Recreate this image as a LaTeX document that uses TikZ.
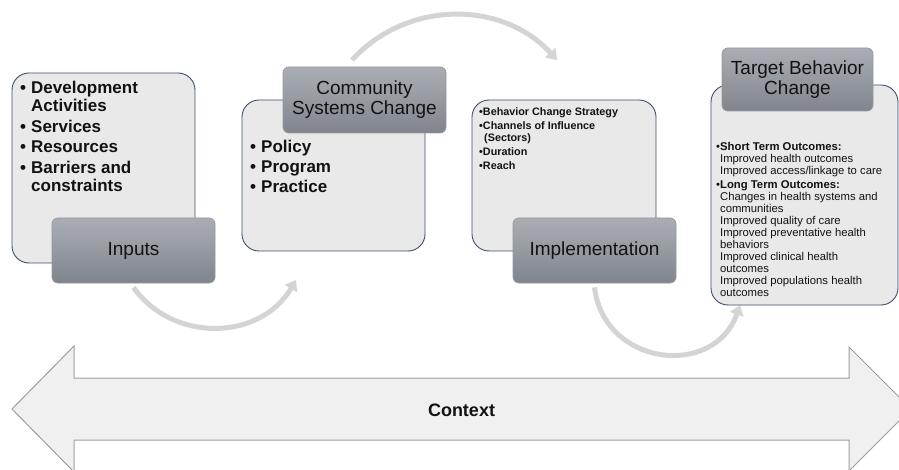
\documentclass[tikz,border=0pt]{standalone}
\usepackage{fontspec}
\setmainfont{Liberation Sans}
\usetikzlibrary{arrows.meta}

\definecolor{boxfill}{RGB}{233,233,233}
\definecolor{boxline}{RGB}{62,78,104}
\definecolor{tabtop}{RGB}{170,174,180}
\definecolor{tabbot}{RGB}{128,133,141}
\definecolor{tabline}{RGB}{150,152,156}
\definecolor{flowgray}{RGB}{212,212,214}
\definecolor{ctxfill}{RGB}{240,240,240}
\definecolor{ctxline}{RGB}{158,158,158}
\definecolor{ink}{RGB}{18,18,18}

% the flow arrows sit underneath the tabs they leave from
\pgfdeclarelayer{flowlayer}
\pgfsetlayers{flowlayer,main}

% bullets with a hanging indent
\newcommand\bigbul{\makebox[11pt][l]{\textbullet}}
\newcommand\bigind{\hspace*{11pt}}
\newcommand\smallbul{\textbullet}
\newcommand\smallind{\hspace*{3.9pt}}

\tikzset{
  contentbox/.style={draw=boxline, fill=boxfill, line width=0.9pt,
    rounded corners=17pt, inner sep=0pt},
  tabbox/.style={draw=tabline, line width=0.8pt, top color=tabtop,
    bottom color=tabbot, rounded corners=6pt, inner sep=0pt,
    minimum width=163pt, minimum height=65pt, align=center,
    font=\fontsize{19}{20}\selectfont, text=ink},
  flow/.style={draw=flowgray, line width=5pt,
    -{Triangle[width=14pt,length=10pt]}},
  bigtext/.style={font=\bfseries\fontsize{17}{18}\selectfont,
    align=left, inner sep=0pt, anchor=base west, text=ink},
  smalltext/.style={font=\fontsize{11.3}{12}\selectfont,
    align=left, inner sep=0pt, anchor=base west, text=ink},
  ctxarrow/.style={draw=ctxline, fill=ctxfill, line width=1pt},
}

\begin{document}
\begin{tikzpicture}[x=1pt, y=-1pt]
\useasboundingbox (0,0) rectangle (899,470);
\clip (0,0) rectangle (899,470);

% context band across the bottom
\draw[ctxarrow] (12,409) -- (74,346) -- (74,378) -- (849,378) -- (849,347)
  -- (911,409) -- (849,471) -- (849,440) -- (74,440) -- (74,472) -- cycle;
\node[font=\bfseries\fontsize{18}{20}\selectfont, text=ink, anchor=base]
  (context) at (461.5,416) {Context};

% content panels
\node[contentbox, minimum width=183pt, minimum height=190pt] (inbox) at (103.5,168) {};
\node[contentbox, minimum width=183pt, minimum height=151pt] (csbox) at (333.5,175.5) {};
\node[contentbox, minimum width=184pt, minimum height=151pt] (imbox) at (564,175.5) {};
\node[contentbox, minimum width=187pt, minimum height=220pt] (tbbox) at (804.5,195) {};

% stage tabs over the panels
\node[tabbox] (inputs) at (133.5,250.5) {Inputs};
\node[tabbox, minimum height=66pt] (community) at (364.5,100) {Community\\Systems Change};
\node[tabbox] (implement) at (594.5,250.5) {Implementation};
\node[tabbox, minimum width=151pt, minimum height=63pt] (target) at (797.5,79.5) {Target Behavior\\Change};

% curved flow arrows between stages
\coordinate (cstail) at (352,60);
\coordinate (csin) at (296,280);
\coordinate (imin) at (557,60);
\coordinate (tbin) at (740,305);
\begin{pgfonlayer}{flowlayer}
\draw[flow] ([yshift=-4pt]inputs.south) .. controls (173,343) and (260,341) .. (csin);
\draw[flow] (cstail) .. controls (407,0) and (502,0) .. (imin);
\draw[flow] ([yshift=-4pt]implement.south) .. controls (604,366) and (714,379) .. (tbin);
\end{pgfonlayer}

% panel texts (each node is placed by the baseline of its last line)
\node[bigtext] (intext) at (20,191.5) {%
  \bigbul Development\\ \bigind Activities\\[2.5pt]
  \bigbul Services\\[2.5pt]
  \bigbul Resources\\[2.5pt]
  \bigbul Barriers and\\ \bigind constraints};

\node[bigtext] (cstext) at (250,193) {%
  \bigbul Policy\\[2pt]
  \bigbul Program\\[2pt]
  \bigbul Practice};

\node[smalltext, font=\bfseries\fontsize{10.8}{12}\selectfont] (imtext) at (479,170) {%
  \smallbul Behavior Change Strategy\\[2pt]
  \smallbul Channels of Influence\\ \hspace*{5pt}(Sectors)\\[2pt]
  \smallbul Duration\\[2pt]
  \smallbul Reach};

\node[smalltext] (tbtext) at (716,296.5) {%
  \smallbul\textbf{Short Term Outcomes:}\\
  \smallind Improved health outcomes\\
  \smallind Improved access/linkage to care\\[2pt]
  \smallbul\textbf{Long Term Outcomes:}\\
  \smallind Changes in health systems and\\
  \smallind communities\\
  \smallind Improved quality of care\\
  \smallind Improved preventative health\\
  \smallind behaviors\\
  \smallind Improved clinical health\\
  \smallind outcomes\\
  \smallind Improved populations health\\
  \smallind outcomes};

\end{tikzpicture}
\end{document}
